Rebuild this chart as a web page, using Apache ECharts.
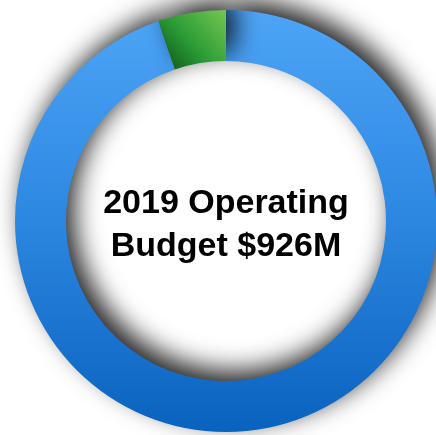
<!DOCTYPE html>
<html>
<head>
<meta charset="utf-8">
<style>
  html, body { margin: 0; padding: 0; background: #fff; }
  #chart { width: 436px; height: 435px; }
</style>
<script src="https://cdn.jsdelivr.net/npm/echarts@6/dist/echarts.min.js"></script>
</head>
<body>
<div id="chart"></div>
<script>
const categories = ['Operating', 'Other']
const values = [878, 48]
const centerText = '2019 Operating\nBudget $926M'

const chart = echarts.init(document.getElementById('chart'))

const colors = [
  new echarts.graphic.LinearGradient(0, 0, 0, 1, [
    { offset: 0, color: '#4ea5f7' },
    { offset: 0.5, color: '#2c87e0' },
    { offset: 1, color: '#0a62bf' },
  ]),
  new echarts.graphic.LinearGradient(1, 0, 0, 1, [
    { offset: 0, color: '#74c850' },
    { offset: 0.55, color: '#2a9a35' },
    { offset: 1, color: '#0c4d16' },
  ]),
]

chart.setOption({
  animation: false,
  graphic: [
    {
      type: 'text',
      x: 226,
      y: 225,
      z: 100,
      style: {
        text: centerText,
        fontFamily: 'Liberation Sans, Arial, sans-serif',
        fontWeight: 'bold',
        fontSize: 34,
        lineHeight: 43,
        fill: '#000',
        align: 'center',
        verticalAlign: 'middle',
      },
    },
  ],
  series: [
    {
      type: 'pie',
      center: [226, 221],
      radius: [160, 211],
      startAngle: 90,
      label: { show: false },
      labelLine: { show: false },
      silent: true,
      itemStyle: {
        shadowBlur: 26,
        shadowOffsetX: 8,
        shadowOffsetY: -10,
        shadowColor: 'rgba(0,0,0,0.85)',
      },
      data: categories.map((name, i) => ({
        name,
        value: values[i],
        itemStyle: { color: colors[i] },
      })),
    },
  ],
})

window.addEventListener('resize', () => {
  chart.resize()
})
</script>
</body>
</html>
